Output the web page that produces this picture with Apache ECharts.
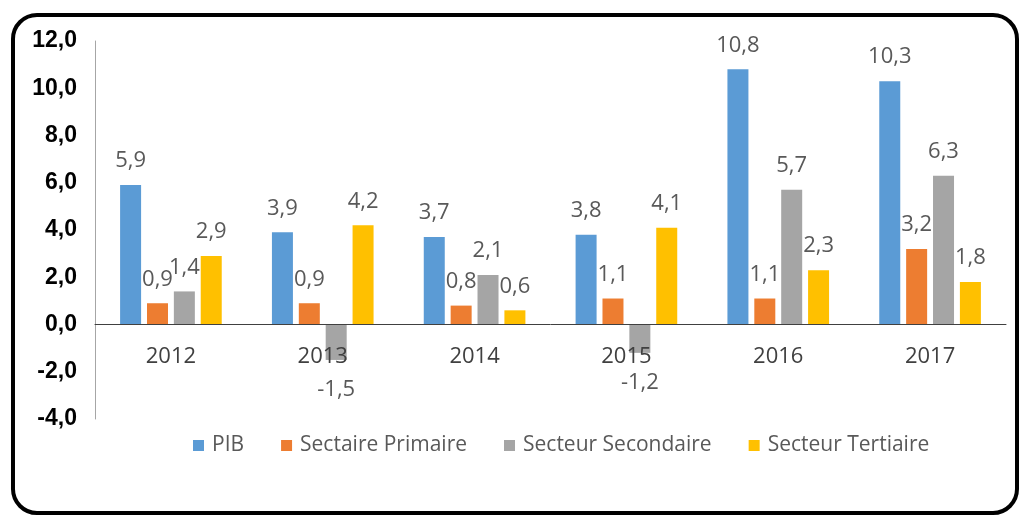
<!DOCTYPE html>
<html>
<head>
<meta charset="utf-8">
<script src="https://cdn.jsdelivr.net/npm/echarts@6/dist/echarts.min.js"></script>
<style>
html,body{margin:0;padding:0;background:#fff;}
#chart{width:1024px;height:517px;}
</style>
</head>
<body>
<div id="chart"></div>
<script>
const categories = ['2012', '2013', '2014', '2015', '2016', '2017'];
const seriesNames = ['PIB', 'Sectaire Primaire', 'Secteur Secondaire', 'Secteur Tertiaire'];
const pib = [5.9, 3.9, 3.7, 3.8, 10.8, 10.3];
const primaire = [0.9, 0.9, 0.8, 1.1, 1.1, 3.2];
const secondaire = [1.4, -1.5, 2.1, -1.2, 5.7, 6.3];
const tertiaire = [2.9, 4.2, 0.6, 4.1, 2.3, 1.8];
const colors = ['#5B9BD5', '#ED7D31', '#A5A5A5', '#FFC000'];

const fmt = v => Number(v).toFixed(1).replace('.', ',');
function mk(name, arr, color) {
  return {
    name: name,
    type: 'bar',
    barWidth: 21,
    barGap: '28%',
    itemStyle: { color: color },
    label: {
      show: true,
      position: 'top',
      distance: 13,
      color: '#595959',
      fontFamily: 'Open Sans',
      fontSize: 22,
      formatter: p => fmt(p.value)
    },
    data: arr.map(v => v < 0 ? { value: v, label: { position: 'bottom', distance: 19 } } : v)
  };
}

const gridBottom = 98;
const chart = echarts.init(document.getElementById('chart'));
const option = {
  animation: false,
  backgroundColor: '#fff',
  graphic: [{
    type: 'rect',
    shape: { x: 13, y: 15, width: 1004, height: 498, r: 24 },
    style: { fill: 'none', stroke: '#000', lineWidth: 4 },
    z: 100
  }],
  grid: { left: 95, right: 18, top: 41, bottom: gridBottom },
  legend: {
    data: seriesNames,
    left: 188,
    top: 430,
    itemWidth: 11,
    itemHeight: 11,
    itemGap: 37,
    icon: 'rect',
    textStyle: { color: '#595959', fontFamily: 'Open Sans', fontSize: 21, padding: [0, 0, 0, 3] }
  },
  xAxis: [{
    type: 'category',
    data: categories,
    axisLine: { onZero: true, lineStyle: { color: '#404040', width: 1 } },
    axisTick: { show: false },
    axisLabel: { show: false },
    z: 10
  }, {
    type: 'category',
    data: categories,
    position: 'bottom',
    offset: 0,
    axisLine: { show: false },
    axisTick: { show: false },
    axisLabel: { color: '#404040', fontFamily: 'Open Sans', fontSize: 22, margin: 21 },
    z: 10
  }],
  yAxis: {
    type: 'value',
    min: -4,
    max: 12,
    interval: 2,
    splitLine: { show: false },
    axisLine: { show: true, lineStyle: { color: '#A6A6A6' } },
    axisTick: { show: false },
    axisLabel: {
      color: '#000',
      fontWeight: 'bold',
      fontFamily: 'Liberation Sans',
      fontSize: 23,
      margin: 18,
      formatter: v => fmt(v)
    }
  },
  series: [
    mk(seriesNames[0], pib, colors[0]),
    mk(seriesNames[1], primaire, colors[1]),
    mk(seriesNames[2], secondaire, colors[2]),
    mk(seriesNames[3], tertiaire, colors[3])
  ]
};
chart.setOption(option);
const zeroY = chart.convertToPixel({ yAxisIndex: 0 }, 0);
const gridBottomY = 517 - gridBottom;
chart.setOption({ xAxis: [{}, { offset: zeroY - gridBottomY }] });
</script>
</body>
</html>
